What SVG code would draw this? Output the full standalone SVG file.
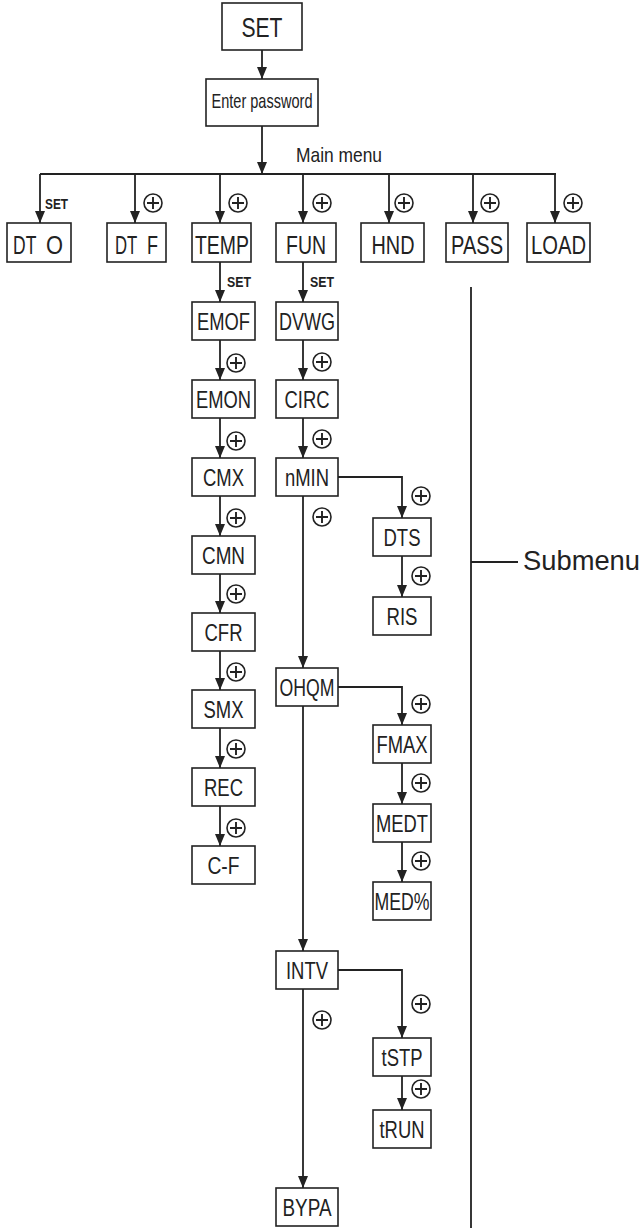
<svg xmlns="http://www.w3.org/2000/svg" xmlns:xlink="http://www.w3.org/1999/xlink" width="641" height="1228" viewBox="0 0 641 1228">
<style>
.box{fill:#fff;stroke:#222;stroke-width:1.6}
.lbl{font-family:"Liberation Sans",Arial,sans-serif;font-size:24px;fill:#222;text-anchor:middle}
.st{text-anchor:start}
.sm{font-family:"Liberation Sans",Arial,sans-serif;font-size:15px;font-weight:bold;fill:#222}
.conn{stroke:#222;stroke-width:1.8;fill:none}
.ar{marker-end:url(#ah)}
</style>
<defs>
<marker id="ah" viewBox="0 0 12 10" refX="12" refY="5" markerWidth="12" markerHeight="10" markerUnits="userSpaceOnUse" orient="auto"><path d="M0,0 L12,5 L0,10 z" fill="#222"/></marker>
<g id="plus"><circle r="9" fill="#fff" stroke="#222" stroke-width="1.6"/><path d="M-6,0H6M0,-6V6" stroke="#222" stroke-width="1.9"/></g>
</defs>
<rect width="641" height="1228" fill="#fff"/>

<g id="connectors">
<path class="conn ar" d="M262,50V79"/>
<path class="conn ar" d="M262,126V174"/>
<path class="conn" d="M40,174H556"/>
<path class="conn ar" d="M40,174V223"/>
<path class="conn ar" d="M135,174V223"/>
<path class="conn ar" d="M220,174V223"/>
<path class="conn ar" d="M303,174V223"/>
<path class="conn ar" d="M389,174V223"/>
<path class="conn ar" d="M473,174V223"/>
<path class="conn ar" d="M555,174V223"/>
<path class="conn ar" d="M220,262V302"/>
<path class="conn ar" d="M220,340V380"/>
<path class="conn ar" d="M220,418V458"/>
<path class="conn ar" d="M220,496V536"/>
<path class="conn ar" d="M220,574V613"/>
<path class="conn ar" d="M220,651V690"/>
<path class="conn ar" d="M220,728V768"/>
<path class="conn ar" d="M220,806V846"/>
<path class="conn ar" d="M303,262V302"/>
<path class="conn ar" d="M303,340V380"/>
<path class="conn ar" d="M303,418V458"/>
<path class="conn ar" d="M303,496V668"/>
<path class="conn ar" d="M303,706V951"/>
<path class="conn ar" d="M303,989V1188"/>
<path class="conn ar" d="M338,477H402V518"/>
<path class="conn ar" d="M402,556V597"/>
<path class="conn ar" d="M338,687H402V725"/>
<path class="conn ar" d="M402,763V804"/>
<path class="conn ar" d="M402,842V882"/>
<path class="conn ar" d="M338,970H402V1038"/>
<path class="conn ar" d="M402,1076V1110"/>
<path class="conn" d="M471,287V1228M471,562H518"/>
</g>

<g id="edge-labels">
<text class="sm" x="45" y="209" textLength="23" lengthAdjust="spacingAndGlyphs">SET</text>
<text class="sm" x="227" y="287" textLength="24" lengthAdjust="spacingAndGlyphs">SET</text>
<text class="sm" x="310" y="287" textLength="24" lengthAdjust="spacingAndGlyphs">SET</text>
<use xlink:href="#plus" x="153" y="203"/>
<use xlink:href="#plus" x="238" y="203"/>
<use xlink:href="#plus" x="322" y="203"/>
<use xlink:href="#plus" x="404" y="203"/>
<use xlink:href="#plus" x="490" y="203"/>
<use xlink:href="#plus" x="573" y="203"/>
<use xlink:href="#plus" x="236" y="363"/>
<use xlink:href="#plus" x="236" y="441"/>
<use xlink:href="#plus" x="236" y="518"/>
<use xlink:href="#plus" x="236" y="594"/>
<use xlink:href="#plus" x="236" y="672"/>
<use xlink:href="#plus" x="236" y="749"/>
<use xlink:href="#plus" x="236" y="828"/>
<use xlink:href="#plus" x="322" y="362"/>
<use xlink:href="#plus" x="322" y="439"/>
<use xlink:href="#plus" x="322" y="517"/>
<use xlink:href="#plus" x="322" y="1020"/>
<use xlink:href="#plus" x="421" y="496"/>
<use xlink:href="#plus" x="421" y="576"/>
<use xlink:href="#plus" x="421" y="704"/>
<use xlink:href="#plus" x="421" y="783"/>
<use xlink:href="#plus" x="421" y="861"/>
<use xlink:href="#plus" x="421" y="1004"/>
<use xlink:href="#plus" x="421" y="1089"/>
<text class="lbl" x="339" y="162" style="font-size:21px" textLength="86" lengthAdjust="spacingAndGlyphs">Main menu</text>
<text class="lbl st" x="523" y="570" style="font-size:28px" textLength="117" lengthAdjust="spacingAndGlyphs">Submenu</text>
</g>

<g id="n-set"><rect class="box" x="222" y="3" width="80" height="47"/><text class="lbl" x="262" y="37" style="font-size:27px" textLength="41" lengthAdjust="spacingAndGlyphs">SET</text></g>
<g id="n-password"><rect class="box" x="206" y="79" width="112" height="47"/><text class="lbl" x="262" y="108" style="font-size:21px" textLength="101" lengthAdjust="spacingAndGlyphs">Enter password</text></g>

<g id="n-dto"><rect class="box" x="7" y="223" width="64" height="39"/><text class="lbl st" y="254" style="font-size:25px"><tspan x="13" textLength="23" lengthAdjust="spacingAndGlyphs">DT</tspan> <tspan x="46" textLength="17" lengthAdjust="spacingAndGlyphs">O</tspan></text></g>
<g id="n-dtf"><rect class="box" x="107" y="223" width="59" height="39"/><text class="lbl st" y="254" style="font-size:25px"><tspan x="115" textLength="22" lengthAdjust="spacingAndGlyphs">DT</tspan> <tspan x="147" textLength="11" lengthAdjust="spacingAndGlyphs">F</tspan></text></g>
<g id="n-temp"><rect class="box" x="192" y="223" width="59" height="39"/><text class="lbl" x="222" y="254" style="font-size:25px" textLength="54" lengthAdjust="spacingAndGlyphs">TEMP</text></g>
<g id="n-fun"><rect class="box" x="276" y="223" width="60" height="39"/><text class="lbl" x="306" y="254" style="font-size:25px" textLength="40" lengthAdjust="spacingAndGlyphs">FUN</text></g>
<g id="n-hnd"><rect class="box" x="361" y="223" width="63" height="39"/><text class="lbl" x="393" y="254" style="font-size:25px" textLength="43" lengthAdjust="spacingAndGlyphs">HND</text></g>
<g id="n-pass"><rect class="box" x="446" y="223" width="62" height="39"/><text class="lbl" x="477" y="254" style="font-size:25px" textLength="52" lengthAdjust="spacingAndGlyphs">PASS</text></g>
<g id="n-load"><rect class="box" x="527" y="223" width="63" height="39"/><text class="lbl" x="558.5" y="254" style="font-size:25px" textLength="55" lengthAdjust="spacingAndGlyphs">LOAD</text></g>

<g id="n-emof"><rect class="box" x="192" y="302" width="63" height="38"/><text class="lbl" x="223.5" y="329.5" textLength="53" lengthAdjust="spacingAndGlyphs">EMOF</text></g>
<g id="n-emon"><rect class="box" x="192" y="380" width="63" height="38"/><text class="lbl" x="223.5" y="407.5" textLength="55" lengthAdjust="spacingAndGlyphs">EMON</text></g>
<g id="n-cmx"><rect class="box" x="192" y="458" width="63" height="38"/><text class="lbl" x="223.5" y="485.5" textLength="41" lengthAdjust="spacingAndGlyphs">CMX</text></g>
<g id="n-cmn"><rect class="box" x="192" y="536" width="63" height="38"/><text class="lbl" x="223.5" y="563.5" textLength="43" lengthAdjust="spacingAndGlyphs">CMN</text></g>
<g id="n-cfr"><rect class="box" x="192" y="613" width="63" height="38"/><text class="lbl" x="223.5" y="640.5" textLength="38" lengthAdjust="spacingAndGlyphs">CFR</text></g>
<g id="n-smx"><rect class="box" x="192" y="690" width="63" height="38"/><text class="lbl" x="223.5" y="717.5" textLength="40" lengthAdjust="spacingAndGlyphs">SMX</text></g>
<g id="n-rec"><rect class="box" x="192" y="768" width="63" height="38"/><text class="lbl" x="223.5" y="795.5" textLength="39" lengthAdjust="spacingAndGlyphs">REC</text></g>
<g id="n-cf"><rect class="box" x="192" y="846" width="63" height="38"/><text class="lbl" x="223.5" y="873.5" textLength="32" lengthAdjust="spacingAndGlyphs">C-F</text></g>

<g id="n-dvwg"><rect class="box" x="276" y="302" width="62" height="38"/><text class="lbl" x="307" y="329.5" textLength="56" lengthAdjust="spacingAndGlyphs">DVWG</text></g>
<g id="n-circ"><rect class="box" x="276" y="380" width="62" height="38"/><text class="lbl" x="307" y="407.5" textLength="45" lengthAdjust="spacingAndGlyphs">CIRC</text></g>
<g id="n-nmin"><rect class="box" x="276" y="458" width="62" height="38"/><text class="lbl" x="307" y="485.5" textLength="44" lengthAdjust="spacingAndGlyphs">nMIN</text></g>
<g id="n-ohqm"><rect class="box" x="276" y="668" width="62" height="38"/><text class="lbl" x="307" y="695.5" textLength="55" lengthAdjust="spacingAndGlyphs">OHQM</text></g>
<g id="n-intv"><rect class="box" x="276" y="951" width="62" height="38"/><text class="lbl" x="307" y="978.5" textLength="42" lengthAdjust="spacingAndGlyphs">INTV</text></g>
<g id="n-bypa"><rect class="box" x="276" y="1188" width="62" height="38"/><text class="lbl" x="307" y="1215.5" textLength="49" lengthAdjust="spacingAndGlyphs">BYPA</text></g>

<g id="n-dts"><rect class="box" x="373" y="518" width="58" height="38"/><text class="lbl" x="402" y="545.5" textLength="37" lengthAdjust="spacingAndGlyphs">DTS</text></g>
<g id="n-ris"><rect class="box" x="373" y="597" width="58" height="38"/><text class="lbl" x="402" y="624.5" textLength="31" lengthAdjust="spacingAndGlyphs">RIS</text></g>
<g id="n-fmax"><rect class="box" x="373" y="725" width="58" height="38"/><text class="lbl" x="402" y="752.5" textLength="51" lengthAdjust="spacingAndGlyphs">FMAX</text></g>
<g id="n-medt"><rect class="box" x="373" y="804" width="58" height="38"/><text class="lbl" x="402" y="831.5" textLength="52" lengthAdjust="spacingAndGlyphs">MEDT</text></g>
<g id="n-medp"><rect class="box" x="373" y="882" width="58" height="38"/><text class="lbl" x="402" y="909.5" textLength="55" lengthAdjust="spacingAndGlyphs">MED%</text></g>
<g id="n-tstp"><rect class="box" x="373" y="1038" width="58" height="38"/><text class="lbl" x="402" y="1065.5" textLength="41" lengthAdjust="spacingAndGlyphs">tSTP</text></g>
<g id="n-trun"><rect class="box" x="373" y="1110" width="58" height="38"/><text class="lbl" x="402" y="1137.5" textLength="45" lengthAdjust="spacingAndGlyphs">tRUN</text></g>
</svg>
